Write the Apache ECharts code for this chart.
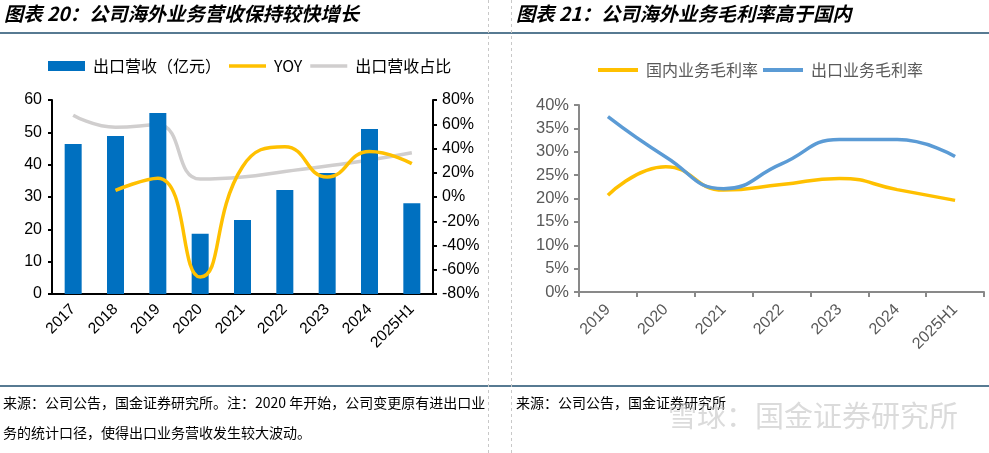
<!DOCTYPE html>
<html><head><meta charset="utf-8">
<script src="https://cdn.jsdelivr.net/npm/echarts@6/dist/echarts.min.js"></script>
<style>html,body{margin:0;padding:0;background:#fff;}#c{width:989px;height:453px;}</style>
</head><body><div id="c"></div>
<script>
// Left chart data
const leftCategories = ['2017','2018','2019','2020','2021','2022','2023','2024','2025H1'];
const exportRevenue = [46.4, 48.9, 56.0, 18.6, 22.9, 32.2, 37.4, 51.0, 28.1];
const exportYoY = [null, 5.5, 15.5, -66, 25, 41.5, 16.5, 37.5, 27.5];
const exportShare = [67.5, 57.5, 59.5, 14.8, 16.5, 21, 25.5, 30.5, 36.5];
const leftAxisTicks = {min: 0, max: 60, interval: 10};
const rightAxisTicks = {min: -80, max: 80, interval: 20};
// Right chart data
const rightCategories = ['2019','2020','2021','2022','2023','2024','2025H1'];
const domesticMargin = [20.7, 26.8, 21.8, 23.0, 24.3, 21.9, 19.6];
const exportMargin = [37.5, 28.9, 22.1, 27.4, 32.6, 32.6, 29.0];
const marginTicks = {min: 0, max: 40, interval: 5};

const FONT = 'Arial, "Liberation Sans", "Noto Sans CJK SC", sans-serif';
const CJK = '"Noto Sans CJK SC", sans-serif';
const LINE_ICON = 'path://M0,0H40V4H0Z';

const chart = echarts.init(document.getElementById('c'));
chart.setOption({
  animation: false,
  textStyle: {fontFamily: FONT},
  title: [
    {text: '图表 20：公司海外业务营收保持较快增长', left: 4, top: 4, padding: 0,
     textStyle: {fontSize: 19.3, fontStyle: 'italic', fontWeight: 'bold', color: '#000', fontFamily: CJK}},
    {text: '图表 21：公司海外业务毛利率高于国内', left: 516, top: 4, padding: 0,
     textStyle: {fontSize: 19.3, fontStyle: 'italic', fontWeight: 'bold', color: '#000', fontFamily: CJK}}
  ],
  legend: [
    {left: 48, top: 58, padding: 0, itemWidth: 37, itemHeight: 10, itemGap: 8,
     textStyle: {fontSize: 16, color: '#000', fontFamily: CJK, padding: [0, 0, 0, 3]},
     data: [{name: '出口营收（亿元）', icon: 'rect'}, {name: 'YOY', icon: LINE_ICON}, {name: '出口营收占比', icon: LINE_ICON}]},
    {left: 598, top: 62, padding: 0, itemWidth: 40, itemHeight: 10, itemGap: 5,
     textStyle: {fontSize: 16, color: '#595959', fontFamily: CJK, padding: [0, 0, 0, 3]},
     data: [{name: '国内业务毛利率', icon: LINE_ICON}, {name: '出口业务毛利率', icon: LINE_ICON}]}
  ],
  grid: [
    {left: 52, top: 100, width: 381, height: 194},
    {left: 579, top: 105, width: 405, height: 187}
  ],
  xAxis: [
    {type: 'category', gridIndex: 0, data: leftCategories,
     axisLine: {lineStyle: {color: '#000', width: 2}}, axisTick: {show: false},
     axisLabel: {rotate: 45, color: '#000', fontSize: 15.5, margin: 13, interval: 0}},
    {type: 'category', gridIndex: 1, data: rightCategories,
     axisLine: {lineStyle: {color: '#898989', width: 2}},
     axisTick: {show: true, length: 5, lineStyle: {color: '#898989', width: 2}},
     axisLabel: {rotate: 45, color: '#595959', fontSize: 16, margin: 15, interval: 0}}
  ],
  yAxis: [
    {type: 'value', gridIndex: 0, position: 'left', ...leftAxisTicks,
     axisLine: {show: true, lineStyle: {color: '#000', width: 2}},
     axisTick: {show: true, length: 4, lineStyle: {color: '#000', width: 2}},
     splitLine: {show: false},
     axisLabel: {color: '#000', fontSize: 16, margin: 10}},
    {type: 'value', gridIndex: 0, position: 'right', ...rightAxisTicks,
     axisLine: {show: true, lineStyle: {color: '#000', width: 2}},
     axisTick: {show: true, length: 4, lineStyle: {color: '#000', width: 2}},
     splitLine: {show: false},
     axisLabel: {color: '#000', fontSize: 16, margin: 9, formatter: '{value}%'}},
    {type: 'value', gridIndex: 1, ...marginTicks,
     axisLine: {show: true, lineStyle: {color: '#898989', width: 2}},
     axisTick: {show: true, length: 5, lineStyle: {color: '#898989', width: 2}},
     splitLine: {show: false},
     axisLabel: {color: '#595959', fontSize: 16.5, margin: 10, formatter: '{value}%'}}
  ],
  series: [
    {name: '出口营收（亿元）', type: 'bar', xAxisIndex: 0, yAxisIndex: 0, data: exportRevenue,
     barWidth: 17, itemStyle: {color: '#0070C0'}},
    {name: 'YOY', type: 'line', xAxisIndex: 0, yAxisIndex: 1, data: exportYoY, smooth: 0.5,
     symbol: 'none', lineStyle: {color: '#FFC000', width: 3.5}, itemStyle: {color: '#FFC000'}},
    {name: '出口营收占比', type: 'line', xAxisIndex: 0, yAxisIndex: 1, data: exportShare, smooth: 0.5,
     symbol: 'none', lineStyle: {color: '#D0CECE', width: 3.5}, itemStyle: {color: '#D0CECE'}, z: 1},
    {name: '国内业务毛利率', type: 'line', xAxisIndex: 1, yAxisIndex: 2, data: domesticMargin, smooth: 0.5,
     symbol: 'none', lineStyle: {color: '#FFC000', width: 3.5}, itemStyle: {color: '#FFC000'}},
    {name: '出口业务毛利率', type: 'line', xAxisIndex: 1, yAxisIndex: 2, data: exportMargin, smooth: 0.5,
     symbol: 'none', lineStyle: {color: '#5B9BD5', width: 3.5}, itemStyle: {color: '#5B9BD5'}}
  ],
  graphic: [
    {type: 'line', shape: {x1: 0, y1: 33, x2: 989, y2: 33}, style: {stroke: '#1F4E6E', lineWidth: 1.5}},
    {type: 'line', shape: {x1: 0, y1: 386, x2: 989, y2: 386}, style: {stroke: '#1F4E6E', lineWidth: 1.5}},
    {type: 'line', shape: {x1: 488.5, y1: 0, x2: 488.5, y2: 453}, style: {stroke: '#C8C8C8', lineWidth: 1, lineDash: [3, 3]}},
    {type: 'line', shape: {x1: 511.5, y1: 0, x2: 511.5, y2: 453}, style: {stroke: '#C8C8C8', lineWidth: 1, lineDash: [3, 3]}},
    {type: 'text', left: 3, top: 396, style: {text: '来源：公司公告，国金证券研究所。注：2020 年开始，公司变更原有进出口业', fontSize: 14, fill: '#000', fontFamily: CJK}},
    {type: 'text', left: 3, top: 426, style: {text: '务的统计口径，使得出口业务营收发生较大波动。', fontSize: 14, fill: '#000', fontFamily: CJK}},
    {type: 'text', left: 516, top: 396, style: {text: '来源：公司公告，国金证券研究所', fontSize: 14, fill: '#000', fontFamily: CJK}},
    {type: 'text', left: 668, top: 401, z: 100, style: {text: '雪球：国金证券研究所', fontSize: 29, fill: 'rgba(190,190,190,0.55)', fontFamily: CJK}}
  ]
});
</script></body></html>
